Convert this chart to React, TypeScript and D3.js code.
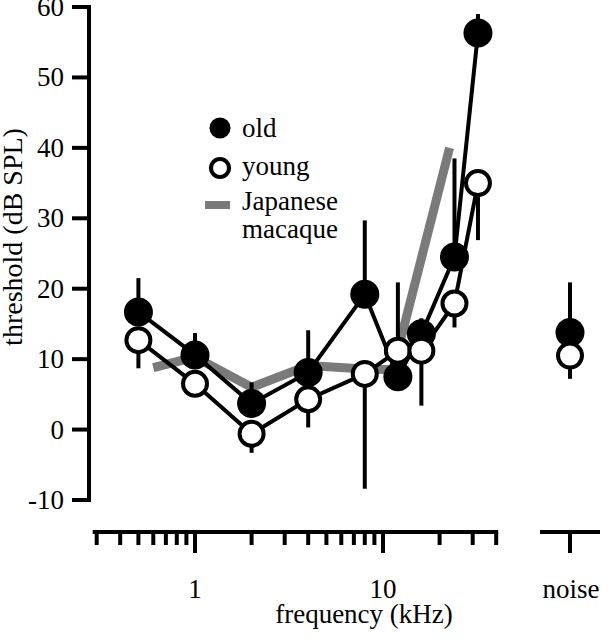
import React from 'react';
import * as d3 from 'd3';

const W = 609;
const H = 639;

// frequency (kHz) of tested tones
const FREQS = [0.5, 1, 2, 4, 8, 12, 16, 24, 32];
// old animals: mean threshold and upper error
const OLD = [16.7, 10.6, 3.7, 8.1, 19.2, 7.5, 13.6, 24.5, 56.3];
const OLD_UPPER = [21.5, 13.7, 6.7, 14.1, 29.7, 20.9, 15.8, 38.5, 59];
// young animals: mean threshold and lower error
const YOUNG = [12.7, 6.5, -0.6, 4.3, 7.9, 11.2, 11.2, 17.9, 35];
const YOUNG_LOWER = [8.7, 5, -3.3, 0.3, -8.4, 9.5, 3.4, 14.5, 26.9];
// noise condition
const NOISE_CAT = ['noise'];
const NOISE_OLD = [13.8];
const NOISE_OLD_UPPER = [20.9];
const NOISE_YOUNG = [10.5];
const NOISE_YOUNG_LOWER = [7.2];
// Japanese macaque reference audiogram
const JAP_FREQS = [0.6, 1, 2, 4, 8, 11.3, 22.6];
const JAP = [8.8, 10.3, 6, 9.1, 8.6, 8.5, 40];

const Y_TICKS = [-10, 0, 10, 20, 30, 40, 50, 60];
const X_MAJOR = [1, 10];
const X_MINOR = [0.3, 0.4, 0.5, 0.6, 0.7, 0.8, 0.9, 2, 3, 4, 5, 6, 7, 8, 9, 20, 30, 40];
const X_LABELS = ['1', '10'];

const FONT = "'Liberation Serif', 'DejaVu Serif', 'Times New Roman', serif";
const GRAY = '#7a7a7a';

export default function App() {
  const x = d3.scaleLog().domain([1, 10]).range([195, 383]);
  const y = d3.scaleLinear().domain([-10, 60]).range([500, 7]);
  const xn = d3.scaleBand().domain(NOISE_CAT).range([540, 600]);
  const nx = (c: string) => (xn(c) as number) + xn.bandwidth() / 2;

  const line = d3
    .line<[number, number]>()
    .x((d) => x(d[0]))
    .y((d) => y(d[1]));

  const oldPts = FREQS.map((f, i) => [f, OLD[i]] as [number, number]);
  const youngPts = FREQS.map((f, i) => [f, YOUNG[i]] as [number, number]);
  const japPts = JAP_FREQS.map((f, i) => [f, JAP[i]] as [number, number]);

  const axisY0 = 532;
  const xAll = [...X_MINOR, ...X_MAJOR];
  const xMin = d3.min(xAll) as number;
  const xMax = d3.max(xAll) as number;
  const ts: React.CSSProperties = { fontFamily: FONT };

  return (
    <svg
      width={W}
      height={H}
      style={{ position: 'absolute', left: 0, top: 0, background: '#fff', fontFamily: FONT }}
    >
      {/* Japanese macaque */}
      <path d={line(japPts) || ''} fill="none" stroke={GRAY} strokeWidth={9} strokeLinejoin="miter" />
      {/* series lines */}
      <path d={line(oldPts) || ''} fill="none" stroke="#000" strokeWidth={4} />
      <path d={line(youngPts) || ''} fill="none" stroke="#000" strokeWidth={4} />
      {/* error bars */}
      {FREQS.map((f, i) => (
        <line key={'eo' + i} x1={x(f)} x2={x(f)} y1={y(OLD[i])} y2={y(OLD_UPPER[i])} stroke="#000" strokeWidth={4} />
      ))}
      {FREQS.map((f, i) => (
        <line key={'ey' + i} x1={x(f)} x2={x(f)} y1={y(YOUNG[i])} y2={y(YOUNG_LOWER[i])} stroke="#000" strokeWidth={4} />
      ))}
      {NOISE_CAT.map((c, i) => (
        <g key={'en' + i}>
          <line x1={nx(c)} x2={nx(c)} y1={y(NOISE_OLD[i])} y2={y(NOISE_OLD_UPPER[i])} stroke="#000" strokeWidth={4} />
          <line x1={nx(c)} x2={nx(c)} y1={y(NOISE_YOUNG[i])} y2={y(NOISE_YOUNG_LOWER[i])} stroke="#000" strokeWidth={4} />
        </g>
      ))}
      {/* old markers */}
      {FREQS.map((f, i) => (
        <circle key={'co' + i} cx={x(f)} cy={y(OLD[i])} r={14.5} fill="#000" />
      ))}
      {NOISE_CAT.map((c, i) => (
        <circle key={'cno' + i} cx={nx(c)} cy={y(NOISE_OLD[i])} r={14.5} fill="#000" />
      ))}
      {/* young markers */}
      {FREQS.map((f, i) => (
        <circle key={'cy' + i} cx={x(f)} cy={y(YOUNG[i])} r={12} fill="#fff" stroke="#000" strokeWidth={4} />
      ))}
      {NOISE_CAT.map((c, i) => (
        <circle key={'cny' + i} cx={nx(c)} cy={y(NOISE_YOUNG[i])} r={12} fill="#fff" stroke="#000" strokeWidth={4} />
      ))}

      {/* y axis */}
      <line x1={89} x2={89} y1={y(60) - 2} y2={y(-10) + 2} stroke="#000" strokeWidth={4} />
      {Y_TICKS.map((t) => (
        <g key={'yt' + t}>
          <line x1={72} x2={89} y1={y(t)} y2={y(t)} stroke="#000" strokeWidth={4} />
          <text x={64} y={y(t) + 9} textAnchor="end" fontSize={27} style={ts}>
            {t}
          </text>
        </g>
      ))}
      <text transform={`translate(22, 237) rotate(-90)`} textAnchor="middle" fontSize={28} style={ts}>
        threshold (dB SPL)
      </text>

      {/* x axis */}
      <line x1={x(xMin) - 4} x2={x(xMax) + 2} y1={axisY0} y2={axisY0} stroke="#000" strokeWidth={4} />
      {X_MINOR.map((t) => (
        <line key={'xm' + t} x1={x(t)} x2={x(t)} y1={axisY0} y2={axisY0 + 13} stroke="#000" strokeWidth={4} />
      ))}
      {X_MAJOR.map((t, i) => (
        <g key={'xM' + t}>
          <line x1={x(t)} x2={x(t)} y1={axisY0} y2={axisY0 + 21} stroke="#000" strokeWidth={4} />
          <text x={x(t)} y={598} textAnchor="middle" fontSize={27} style={ts}>
            {X_LABELS[i]}
          </text>
        </g>
      ))}
      {/* noise axis */}
      <line x1={540} x2={600} y1={axisY0} y2={axisY0} stroke="#000" strokeWidth={4} />
      {NOISE_CAT.map((c) => (
        <g key={'nt' + c}>
          <line x1={nx(c)} x2={nx(c)} y1={axisY0} y2={axisY0 + 21} stroke="#000" strokeWidth={4} />
          <text x={nx(c) + 1} y={598} textAnchor="middle" fontSize={27} style={ts}>
            {c}
          </text>
        </g>
      ))}
      <text x={364} y={623} textAnchor="middle" fontSize={27} style={ts}>
        frequency (kHz)
      </text>

      {/* legend */}
      <circle cx={220} cy={128} r={10.5} fill="#000" />
      <text x={242} y={137} fontSize={27} style={ts}>old</text>
      <circle cx={220} cy={168} r={9} fill="#fff" stroke="#000" strokeWidth={4} />
      <text x={242} y={175} fontSize={27} style={ts}>young</text>
      <rect x={205} y={201} width={25} height={8} fill={GRAY} />
      <text x={242} y={210} fontSize={27} style={ts}>Japanese</text>
      <text x={242} y={238} fontSize={27} style={ts}>macaque</text>
    </svg>
  );
}
